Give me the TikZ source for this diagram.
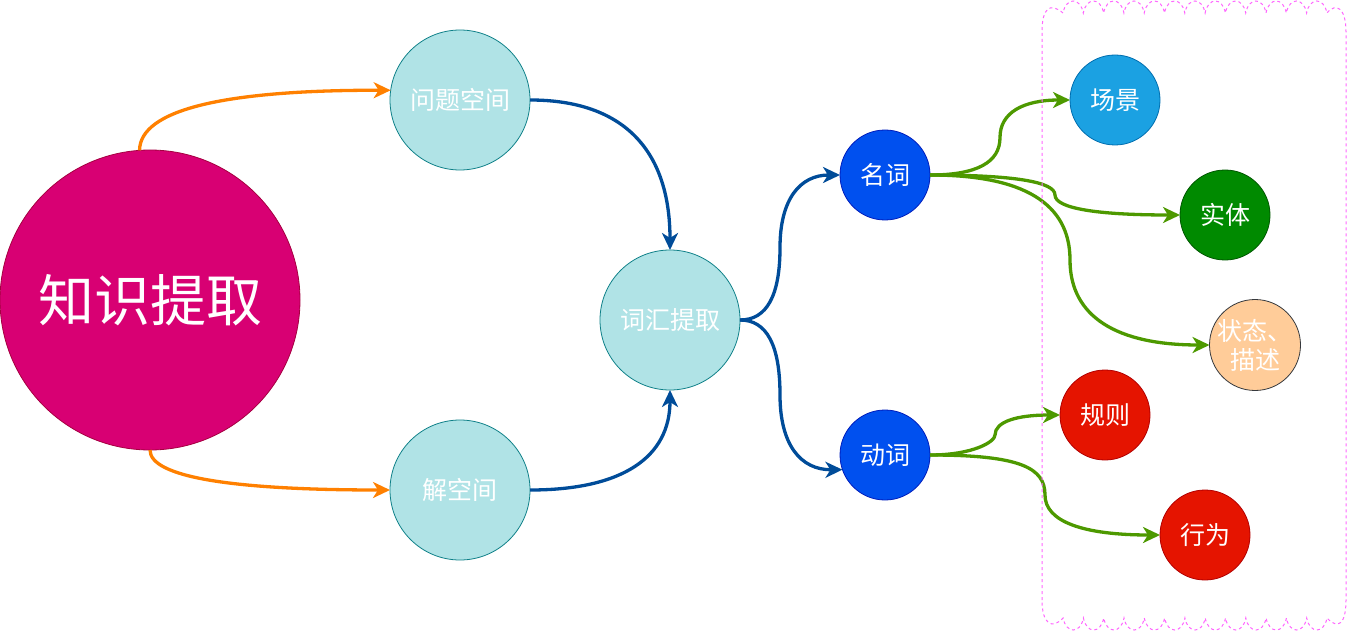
\documentclass[tikz,border=0pt]{standalone}
\usepackage{fontspec}
\newfontfamily\cjk{Noto Sans CJK SC}
\usetikzlibrary{arrows.meta,calc}
\definecolor{magc}{HTML}{D80073}
\definecolor{magd}{HTML}{A50040}
\definecolor{tealf}{HTML}{B0E3E6}
\definecolor{teald}{HTML}{0E8088}
\definecolor{bluef}{HTML}{0050EF}
\definecolor{blued}{HTML}{001DBC}
\definecolor{skyf}{HTML}{1BA1E2}
\definecolor{skyd}{HTML}{006EAF}
\definecolor{greenf}{HTML}{008A00}
\definecolor{greend}{HTML}{005700}
\definecolor{peachf}{HTML}{FFCC99}
\definecolor{peachd}{HTML}{36393D}
\definecolor{redf}{HTML}{E51400}
\definecolor{redd}{HTML}{B20000}
\definecolor{orangee}{HTML}{FF8000}
\definecolor{bluee}{HTML}{004C99}
\definecolor{greene}{HTML}{4D9900}
\definecolor{pinkb}{HTML}{FF66FF}
\tikzset{
  basec/.style={circle, inner sep=0pt, outer sep=0pt, line width=0.8pt, text=white, align=center,
    font=\cjk\fontsize{25}{29}\selectfont},
  bigc/.style={basec, minimum size=300pt, fill=magc, draw=magd, font=\cjk\fontsize{56}{60}\selectfont},
  tealc/.style={basec, minimum size=140pt, fill=tealf, draw=teald},
  smallc/.style={basec, minimum size=90pt},
  edge/.style={line width=3.3pt, -{Stealth[length=17pt,width=16pt,inset=5pt]}},
  oedge/.style={edge, draw=orangee},
  bedge/.style={edge, draw=bluee},
  gedge/.style={edge, draw=greene},
  pinkbox/.style={draw=pinkb, line width=1pt, dash pattern=on 3pt off 3pt}
}
\begin{document}
\begin{tikzpicture}[x=1pt,y=-1pt]
\useasboundingbox (0,0) rectangle (1351,631);

% nodes
\node[bigc] (zs) at (150,300) {知识提取};
\node[tealc] (wt) at (460,100) {问题空间};
\node[tealc] (jk) at (460,490) {解空间};
\node[tealc] (ch) at (670,320) {词汇提取};
\node[smallc, fill=bluef, draw=blued] (mc) at (885,175) {名词};
\node[smallc, fill=bluef, draw=blued] (dc) at (885,455) {动词};
\node[smallc, fill=skyf, draw=skyd] (cj) at (1115,100) {场景};
\node[smallc, fill=greenf, draw=greend] (st) at (1225,215) {实体};
\node[smallc, fill=peachf, draw=peachd] (zt) at (1255,345) {状态、\\描述};
\node[smallc, fill=redf, draw=redd] (gz) at (1105,415) {规则};
\node[smallc, fill=redf, draw=redd] (xw) at (1205,535) {行为};

% orange edges
\draw[oedge] (zs.94) .. controls (140,110) and (223,90) .. (wt.172);
\draw[oedge] (zs.south) .. controls (150,476.7) and (230,490) .. (jk.west);

% blue edges
\draw[bedge] (wt.east) .. controls (623.3,100) and (670,150) .. (ch.north);
\draw[bedge] (jk.east) .. controls (623.3,490) and (670,456.7) .. (ch.south);
\draw[bedge] (ch.east) .. controls (766.7,320) and (780,295.8) .. (780,247.5)
   .. controls (780,199.2) and (800,175) .. (mc.west);
\draw[bedge] (ch.east) .. controls (766.7,320) and (780,345) .. (780,395)
   .. controls (780,445) and (800.8,470) .. (dc.199);

% green edges
\draw[gedge] (mc.east) .. controls (976.7,175) and (1000,162.5) .. (1000,137.5)
   .. controls (1000,112.5) and (1023.3,100) .. (cj.west);
\draw[gedge] (mc.east) .. controls (1013.3,175) and (1055,181.7) .. (1055,195)
   .. controls (1055,208.3) and (1096.7,215) .. (st.west);
\draw[gedge] (mc.east) .. controls (1023.3,175) and (1070,203.3) .. (1070,260)
   .. controls (1070,316.7) and (1116.7,345) .. (zt.west);
\draw[gedge] (dc.east) .. controls (973.3,455) and (995,441.7) .. (995,435)
   .. controls (995,421.7) and (1016.7,415) .. (gz.west);
\draw[gedge] (dc.east) .. controls (1021.7,455) and (1045,468.3) .. (1045,495)
   .. controls (1045,521.7) and (1083.3,535) .. (xw.west);

% dashed scalloped frame
\draw[pinkbox] (1042,600) -- (1042,32) .. controls (1042,8) and (1050,2) .. (1063,13)
  \foreach \i in {1,...,13}{ .. controls +(3,-16) and +(-3,-16) .. ++(20.3,0) }
  .. controls (1336,2) and (1346,8) .. (1346,32) -- (1346,600)
  .. controls (1346,624) and (1338,630) .. (1327,618)
  \foreach \i in {1,...,13}{ .. controls +(-3,16) and +(3,16) .. ++(-20.3,0) }
  .. controls (1052,630) and (1042,624) .. (1042,600) -- cycle;
\end{tikzpicture}
\end{document}
